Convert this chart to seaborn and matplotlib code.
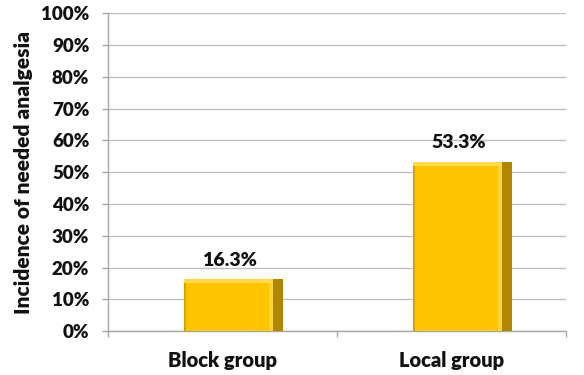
import matplotlib
matplotlib.use("Agg")
import matplotlib.pyplot as plt
import seaborn as sns
import pandas as pd
from matplotlib.patches import Rectangle
from matplotlib.ticker import MultipleLocator, FuncFormatter

groups = ["Block group", "Local group"]
values = [16.3, 53.3]
ylabel = "Incidence of needed analgesia"

sns.set_theme(style="white")
plt.rcParams['font.family'] = ['Lato', 'DejaVu Sans']
plt.rcParams['font.weight'] = 'bold'

df = pd.DataFrame({"group": groups, "value": values})

fig = plt.figure(figsize=(5.84, 3.75), dpi=100)
ax = fig.add_axes([0.185, 0.117, 0.784, 0.848])

sns.barplot(data=df, x="group", y="value", color="#FFC400", width=0.43,
            saturation=1, ax=ax, zorder=3, edgecolor="none", linewidth=0)

shift = 0.048
for p in list(ax.patches):
    p.set_x(p.get_x() + shift)
    x0, w, h = p.get_x(), p.get_width(), p.get_height()
    # dark right side
    ax.add_patch(Rectangle((x0 + w * 0.905, 0), w * 0.095, h, facecolor="#B08600",
                           edgecolor="none", zorder=4))
    # light highlight strip before the dark side
    ax.add_patch(Rectangle((x0 + w * 0.86, 0), w * 0.045, h, facecolor="#FFD23A",
                           edgecolor="none", zorder=4))
    # left darker edge
    ax.add_patch(Rectangle((x0, 0), w * 0.02, h, facecolor="#D9A300",
                           edgecolor="none", zorder=4))
    # top highlight
    ax.add_patch(Rectangle((x0, h - 1.3), w * 0.905, 1.3, facecolor="#FFD84D",
                           edgecolor="none", zorder=5))

for i, v in enumerate(values):
    ax.text(i + 0.03, v + 3.2, f"{v:.1f}%", ha="center", va="bottom", fontsize=14,
            fontweight="heavy", color="#111111")

ax.set_ylim(0, 100)
ax.set_xlim(-0.5, 1.5)
ax.yaxis.set_major_locator(MultipleLocator(10))
ax.yaxis.set_major_formatter(FuncFormatter(lambda v, _: f"{int(round(v))}%"))
ax.grid(axis="y", color="#BFBFBF", linewidth=1.0, zorder=0)
ax.set_axisbelow(True)

ax.set_xticks([-0.5, 0.5, 1.5], minor=False)
ax.set_xticklabels([])
ax.set_xticks([0, 1], minor=True)
ax.set_xticklabels(groups, minor=True, fontsize=14.5, fontweight="heavy", color="#111111")
ax.tick_params(axis="x", which="major", length=4.5, width=1, color="#A6A6A6",
               direction="out", bottom=True)
ax.tick_params(axis="x", which="minor", length=0, pad=14)
ax.tick_params(axis="y", length=4.5, width=1, color="#A6A6A6", direction="out",
               left=True, labelsize=13.5, pad=9, labelcolor="#111111")
for lab in ax.get_yticklabels():
    lab.set_fontweight("heavy")

ax.set_xlabel("")
ax.set_ylabel(ylabel, fontsize=15, fontweight="heavy", labelpad=6, color="#111111")

for s in ["top", "right"]:
    ax.spines[s].set_visible(False)
for s in ["left", "bottom"]:
    ax.spines[s].set_color("#A6A6A6")
    ax.spines[s].set_linewidth(1.0)

fig.savefig("out.png", dpi=100)
